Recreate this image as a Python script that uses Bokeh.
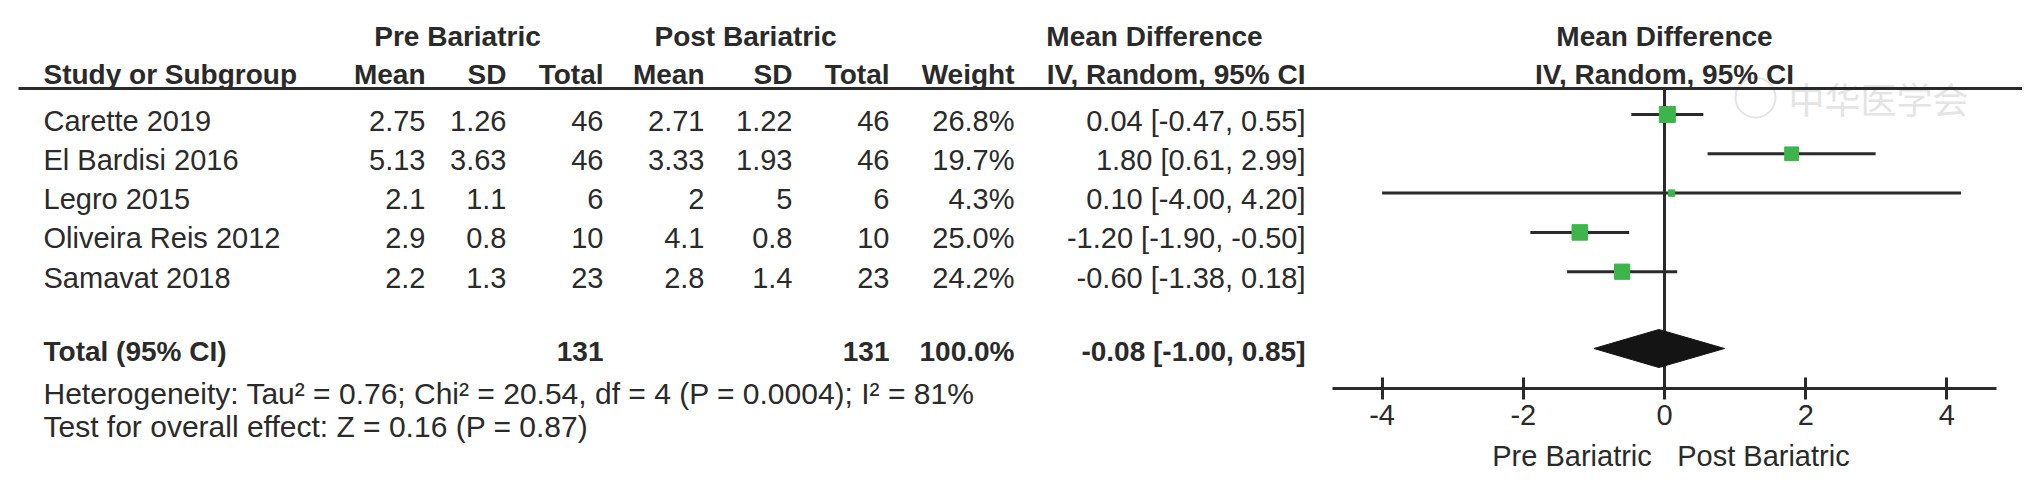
from math import sqrt
from bokeh.plotting import figure
from bokeh.models import Range1d, LinearAxis, FixedTicker
from bokeh.core.properties import value
from bokeh.embed import file_html
from bokeh.resources import INLINE

# ---------------- data ----------------
studies = ["Carette 2019", "El Bardisi 2016", "Legro 2015", "Oliveira Reis 2012", "Samavat 2018"]
pre_mean = [2.75, 5.13, 2.1, 2.9, 2.2]
pre_sd = [1.26, 3.63, 1.1, 0.8, 1.3]
pre_total = [46, 46, 6, 10, 23]
post_mean = [2.71, 3.33, 2, 4.1, 2.8]
post_sd = [1.22, 1.93, 5, 0.8, 1.4]
post_total = [46, 46, 6, 10, 23]
weights = [26.8, 19.7, 4.3, 25.0, 24.2]
md = [0.04, 1.80, 0.10, -1.20, -0.60]
ci_low = [-0.47, 0.61, -4.00, -1.90, -1.38]
ci_high = [0.55, 2.99, 4.20, -0.50, 0.18]
total_pre = 131
total_post = 131
total_weight = 100.0
total_md = -0.08
total_low = -1.00
total_high = 0.85
axis_ticks = [-4, -2, 0, 2, 4]
axis_tick_labels = ["-4", "-2", "0", "2", "4"]
heterogeneity = "Heterogeneity: Tau\u00b2 = 0.76; Chi\u00b2 = 20.54, df = 4 (P = 0.0004); I\u00b2 = 81%"
overall_effect = "Test for overall effect: Z = 0.16 (P = 0.87)"
favours_left = "Pre Bariatric"
favours_right = "Post Bariatric"
watermark = "\u4e2d\u534e\u533b\u5b66\u4f1a"

# ---------------- layout (page pixel coordinates) ----------------
W, H = 2022, 476
OFF = 0
X0 = 1664.0          # page x of zero on the forest scale
PPU = 70.6           # pixels per unit of mean difference
AXIS_Y = 388
HEAD1_Y = 36
HEAD2_Y = 74
RULE_Y = 88
ROW0_Y = 120
ROW_STEP = 39.3
MARK_DY = -6
TOTAL_Y = 351
HET_Y = 393
TEST_Y = 426

FONT = value("Liberation Sans")
FS = "29px"
FSB = "28px"
TXT = "#2a2a2a"
LINE = "#2a2a2a"
GREEN = "#3db54a"

p = figure(width=W, height=H,
           x_range=Range1d((OFF - X0) / PPU, (OFF + W - X0) / PPU),
           y_range=Range1d(OFF + H, OFF),
           min_border=0, toolbar_location=None, output_backend="svg",
           x_axis_location=None, y_axis_location=None,
           outline_line_color=None, background_fill_color="white",
           border_fill_color="white")
p.extra_x_ranges = {"px": Range1d(OFF, OFF + W)}
p.grid.visible = False

row_y = [ROW0_Y + i * ROW_STEP for i in range(len(studies))]
mark_y = [y + MARK_DY for y in row_y]


def txt(x, y, s, align="left", bold=False, size=None, rng="px", color=TXT, font=FONT):
    xs = x if isinstance(x, list) else [x]
    ys = y if isinstance(y, list) else [y] * len(xs)
    ss = s if isinstance(s, list) else [s] * len(xs)
    if size is None:
        size = FSB if bold else FS
    kw = {}
    if rng is not None:
        kw["x_range_name"] = rng
    p.text(x=xs, y=ys, text=ss, text_align=align, text_baseline="middle",
           text_font=font, text_font_size=size,
           text_font_style="bold" if bold else "normal",
           text_color=color, **kw)


# watermark
txt(1878, 97, watermark, align="center", size="36px", color="#e4e4e4",
    font=value("Noto Sans CJK SC"))
p.scatter(x=[1755], y=[97], size=40, marker="circle", fill_color=None,
          line_color="#e4e4e4", line_width=2, x_range_name="px")

# headers
txt(457, HEAD1_Y, "Pre Bariatric", align="center", bold=True)
txt(745, HEAD1_Y, "Post Bariatric", align="center", bold=True)
txt(1154, HEAD1_Y, "Mean Difference", align="center", bold=True)
txt(0, HEAD1_Y, "Mean Difference", align="center", bold=True, rng=None)

txt(43, HEAD2_Y, "Study or Subgroup", bold=True)
head2 = ["Mean", "SD", "Total", "Mean", "SD", "Total", "Weight", "IV, Random, 95% CI"]
col_right = [425, 506, 603, 704, 792, 889, 1014, 1305]
txt(col_right, HEAD2_Y, head2, align="right", bold=True)
txt(0, HEAD2_Y, "IV, Random, 95% CI", align="center", bold=True, rng=None)

# rule under headers
p.segment(x0=[18], y0=[RULE_Y], x1=[2022], y1=[RULE_Y], line_width=3,
          line_color=LINE, x_range_name="px")

# study rows
txt([43] * len(studies), row_y, studies)
cols = [
    [str(v) for v in pre_mean],
    [str(v) for v in pre_sd],
    [str(v) for v in pre_total],
    [str(v) for v in post_mean],
    [str(v) for v in post_sd],
    [str(v) for v in post_total],
    [f"{w:.1f}%" for w in weights],
    [f"{m:.2f} [{lo:.2f}, {hi:.2f}]" for m, lo, hi in zip(md, ci_low, ci_high)],
]
for xr, col in zip(col_right, cols):
    txt([xr] * len(col), row_y, col, align="right")

# total row
txt(43, TOTAL_Y, "Total (95% CI)", bold=True)
txt([col_right[2], col_right[5], col_right[6], col_right[7]], TOTAL_Y,
    [str(total_pre), str(total_post), f"{total_weight:.1f}%",
     f"{total_md:.2f} [{total_low:.2f}, {total_high:.2f}]"],
    align="right", bold=True)

txt(43, HET_Y, heterogeneity, size="30px")
txt(43, TEST_Y, overall_effect, size="30px")

# forest plot
p.segment(x0=[0], y0=[RULE_Y], x1=[0], y1=[AXIS_Y], line_width=3, line_color=LINE)
p.segment(x0=ci_low, y0=mark_y, x1=ci_high, y1=mark_y, line_width=3, line_color=LINE)
sizes = [3.1 * sqrt(w) for w in weights]
p.scatter(x=md, y=mark_y, size=sizes, marker="square", fill_color=GREEN,
          line_color=GREEN, line_width=1)
dh = 19
yc = TOTAL_Y - 3
p.patch(x=[total_low, total_md, total_high, total_md],
        y=[yc, yc - dh, yc, yc + dh],
        fill_color="#141414", line_color="#141414")

ax = LinearAxis(fixed_location=AXIS_Y, bounds=(-4.7, 4.7),
                ticker=FixedTicker(ticks=axis_ticks, minor_ticks=[]))
ax.major_label_overrides = {t: lab for t, lab in zip(axis_ticks, axis_tick_labels)}
ax.axis_line_width = 3
ax.axis_line_color = LINE
ax.major_tick_line_width = 3
ax.major_tick_line_color = LINE
ax.major_tick_in = 11
ax.major_tick_out = 11
ax.minor_tick_line_color = None
ax.major_label_standoff = 5
ax.major_label_text_font = "Liberation Sans"
ax.major_label_text_font_size = "29px"
ax.major_label_text_color = TXT
p.add_layout(ax, "below")

txt(-0.18, 455, favours_left, align="right", size="29px", rng=None)
txt(0.18, 455, favours_right, align="left", size="29px", rng=None)

open("out.html", "w").write(file_html(p, INLINE))
